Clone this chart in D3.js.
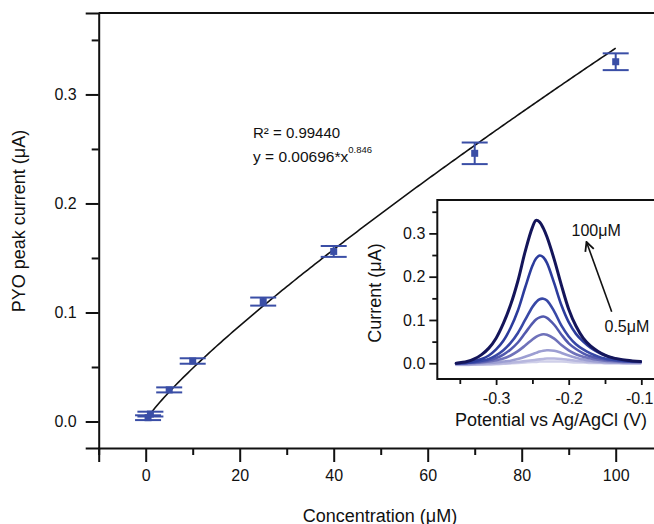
<!DOCTYPE html>
<html>
<head>
<meta charset="utf-8">
<script src="https://cdn.jsdelivr.net/npm/d3@7"></script>
<style>
  html, body { margin: 0; padding: 0; background: #fff; overflow: hidden; }
  svg { display: block; font-family: "Liberation Sans", Arial, sans-serif; }
</style>
</head>
<body>
<svg id="chart" width="654" height="524"></svg>
<script>
// ---------- Main chart data ----------
const concentrations = [0.5, 1, 5, 10, 25, 40, 70, 100];          // µM
const peakCurrents   = [0.0035, 0.0068, 0.029, 0.0555, 0.110, 0.156, 0.246, 0.330]; // µA
const peakErrors     = [0.0022, 0.0022, 0.0023, 0.0025, 0.0037, 0.005, 0.0099, 0.0077];
const xTickValues    = [0, 20, 40, 60, 80, 100];
const yTickValues    = [0.0, 0.1, 0.2, 0.3];
// Fit shown on the chart: y = a * x^b
const fitA = 0.00696, fitB = 0.846;
const fitRange = [0.5, 100];
const fitLabelR2 = "R² = 0.99440";

// ---------- Inset data (DPV curves) ----------
const potentials = [-0.355, -0.34, -0.33, -0.32, -0.31, -0.30, -0.29, -0.28, -0.27, -0.26, -0.25, -0.245,
  -0.24, -0.235, -0.23, -0.22, -0.21, -0.20, -0.19, -0.18, -0.17, -0.16, -0.15, -0.14, -0.12, -0.101];
const curveLabels = ["0.5µM", "1µM", "5µM", "10µM", "25µM", "40µM", "70µM", "100µM"];
const curve05  = [-0.004,-0.004,-0.003,-0.003,-0.002,-0.002,-0.001,0.000,0.001,0.002,0.003,0.003,0.004,0.004,0.004,0.004,0.004,0.003,0.002,0.002,0.001,0.001,0.000,0.000,0.000,0.000];
const curve1   = [-0.003,-0.003,-0.003,-0.002,-0.002,-0.001,0.000,0.001,0.003,0.005,0.007,0.008,0.009,0.010,0.011,0.011,0.010,0.008,0.006,0.004,0.003,0.002,0.001,0.001,0.000,0.000];
const curve5   = [-0.002,-0.002,-0.001,0.000,0.001,0.002,0.004,0.006,0.010,0.015,0.021,0.024,0.027,0.029,0.030,0.029,0.024,0.018,0.013,0.009,0.006,0.004,0.003,0.002,0.001,0.001];
const curve10  = [0.000,0.000,0.001,0.002,0.004,0.007,0.011,0.018,0.028,0.041,0.055,0.061,0.065,0.067,0.066,0.057,0.042,0.030,0.021,0.015,0.011,0.008,0.006,0.005,0.003,0.003];
const curve25  = [0.000,0.001,0.002,0.004,0.007,0.012,0.020,0.032,0.048,0.070,0.092,0.101,0.106,0.108,0.105,0.089,0.066,0.046,0.033,0.023,0.016,0.012,0.009,0.007,0.004,0.003];
const curve40  = [0.000,0.001,0.003,0.006,0.010,0.018,0.030,0.047,0.070,0.100,0.130,0.141,0.148,0.149,0.145,0.120,0.087,0.062,0.044,0.032,0.023,0.016,0.011,0.008,0.005,0.004];
const curve70  = [0.000,0.002,0.005,0.010,0.018,0.032,0.052,0.082,0.122,0.175,0.225,0.242,0.249,0.245,0.232,0.185,0.134,0.095,0.068,0.050,0.036,0.026,0.018,0.012,0.006,0.004];
const curve100 = [0.000,0.004,0.010,0.020,0.035,0.058,0.092,0.135,0.190,0.258,0.314,0.330,0.326,0.312,0.292,0.240,0.180,0.125,0.086,0.058,0.040,0.028,0.019,0.013,0.007,0.004];
const curveColors = ["#cfcfe9", "#b7b7de", "#9c9ed2", "#6f72ba", "#5259ae", "#3848a6", "#2c3c9c", "#14155a"];
const insetXTicks = [-0.3, -0.2, -0.1];
const insetYTicks = [0.0, 0.1, 0.2, 0.3];

// ---------- Setup ----------
const svg = d3.select("#chart");
const font = "'Liberation Sans', Arial, sans-serif";
const markColor = "#3a4ea6";
const fmt1 = d => d3.format(".1f")(d).replace("\u2212", "-");

// Main scales
const x = d3.scaleLinear().domain([-10, 110]).range([98.7, 662.7]);
const y = d3.scaleLinear().domain([-0.0243, 0.3747]).range([448, 13]);

// Frame: top border line
svg.append("line").attr("x1", x(-10)).attr("x2", 660).attr("y1", y(0.3747)).attr("y2", y(0.3747))
  .attr("stroke", "#111").attr("stroke-width", 2);

// Left axis
const yAxis = d3.axisLeft(y).tickValues(yTickValues).tickFormat(fmt1).tickSize(13).tickPadding(9);
const gy = svg.append("g").attr("transform", `translate(${x(-10)},0)`).call(yAxis);
gy.select(".domain").attr("stroke", "#111").attr("stroke-width", 2);
gy.selectAll(".tick line").attr("stroke", "#111").attr("stroke-width", 2);
gy.selectAll(".tick text").attr("font-size", 16).attr("font-family", font).attr("fill", "#111");
const yMinor = d3.axisLeft(y).tickValues([0.05, 0.15, 0.25, 0.35]).tickSize(7).tickFormat("");
const gym = svg.append("g").attr("transform", `translate(${x(-10)},0)`).call(yMinor);
gym.select(".domain").remove();
gym.selectAll(".tick line").attr("stroke", "#111").attr("stroke-width", 2);

// Bottom axis
const xAxis = d3.axisBottom(x).tickValues(xTickValues).tickSize(14).tickPadding(8);
const gx = svg.append("g").attr("transform", `translate(0,${y(-0.0243)})`).call(xAxis);
gx.select(".domain").attr("stroke", "#111").attr("stroke-width", 2);
gx.selectAll(".tick line").attr("stroke", "#111").attr("stroke-width", 2);
gx.selectAll(".tick text").attr("font-size", 16).attr("font-family", font).attr("fill", "#111");
const xMinor = d3.axisBottom(x).tickValues([-10, 10, 30, 50, 70, 90]).tickSize(7).tickFormat("");
const gxm = svg.append("g").attr("transform", `translate(0,${y(-0.0243)})`).call(xMinor);
gxm.select(".domain").remove();
gxm.selectAll(".tick line").attr("stroke", "#111").attr("stroke-width", 2);

// Axis titles
svg.append("text").attr("x", 380).attr("y", 521.5).attr("text-anchor", "middle")
  .attr("font-size", 18).attr("font-family", font).attr("fill", "#111").text("Concentration (μM)");
svg.append("text").attr("transform", "translate(25,221) rotate(-90)").attr("text-anchor", "middle")
  .attr("font-size", 18).attr("font-family", font).attr("fill", "#111").text("PYO peak current (μA)");

// Fit curve
const fitXs = d3.range(fitRange[0], fitRange[1] + 0.001, 0.5);
const fitLine = d3.line().x(d => x(d)).y(d => y(fitA * Math.pow(d, fitB)));
svg.append("path").datum(fitXs).attr("d", fitLine).attr("fill", "none")
  .attr("stroke", "#111").attr("stroke-width", 1.6);

// Error bars + markers
const pts = concentrations.map((c, i) => ({ c, v: peakCurrents[i], e: peakErrors[i] }));
const eg = svg.append("g");
pts.forEach(p => {
  eg.append("line").attr("x1", x(p.c)).attr("x2", x(p.c)).attr("y1", y(p.v - p.e)).attr("y2", y(p.v + p.e))
    .attr("stroke", markColor).attr("stroke-width", 2);
  [p.v - p.e, p.v + p.e].forEach(vv => {
    eg.append("line").attr("x1", x(p.c) - 13).attr("x2", x(p.c) + 13).attr("y1", y(vv)).attr("y2", y(vv))
      .attr("stroke", markColor).attr("stroke-width", 2);
  });
  eg.append("rect").attr("x", x(p.c) - 3.5).attr("y", y(p.v) - 3.5).attr("width", 7).attr("height", 7)
    .attr("fill", markColor);
});

// Fit annotation
svg.append("text").attr("x", 253).attr("y", 138).attr("font-size", 15).attr("font-family", font)
  .attr("fill", "#111").text(fitLabelR2);
const eq = svg.append("text").attr("x", 253).attr("y", 161.5).attr("font-size", 15.5).attr("font-family", font).attr("fill", "#111");
eq.append("tspan").text("y = " + fitA + "*x");
eq.append("tspan").attr("dy", -9).attr("font-size", 9.5).text(fitB.toString());

// ---------- Inset ----------
const ix = d3.scaleLinear().domain([-0.381, -0.05]).range([437.3, 437.3 + 0.331 * 726]);
const iy = d3.scaleLinear().domain([-0.0363, 0.3771]).range([379, 200]);

svg.append("rect").attr("x", ix(-0.381)).attr("y", iy(0.3771)).attr("width", 260).attr("height", iy(-0.0363) - iy(0.3771))
  .attr("fill", "#fff").attr("stroke", "#111").attr("stroke-width", 2);

const iyAxis = d3.axisLeft(iy).tickValues(insetYTicks).tickFormat(fmt1).tickSize(8).tickPadding(4);
const giy = svg.append("g").attr("transform", `translate(${ix(-0.381)},0)`).call(iyAxis);
giy.select(".domain").remove();
giy.selectAll(".tick line").attr("stroke", "#111").attr("stroke-width", 1.8);
giy.selectAll(".tick text").attr("font-size", 16).attr("font-family", font).attr("fill", "#111");
const iyMinor = d3.axisLeft(iy).tickValues([0.05, 0.15, 0.25, 0.35]).tickSize(5).tickFormat("");
const giym = svg.append("g").attr("transform", `translate(${ix(-0.381)},0)`).call(iyMinor);
giym.select(".domain").remove();
giym.selectAll(".tick line").attr("stroke", "#111").attr("stroke-width", 1.8);

const ixAxis = d3.axisBottom(ix).tickValues(insetXTicks).tickFormat(fmt1).tickSize(6).tickPadding(8);
const gix = svg.append("g").attr("transform", `translate(0,${iy(-0.0363)})`).call(ixAxis);
gix.select(".domain").remove();
gix.selectAll(".tick line").attr("stroke", "#111").attr("stroke-width", 1.8);
gix.selectAll(".tick text").attr("font-size", 16).attr("font-family", font).attr("fill", "#111");
// keep the last inset label inside the picture edge
gix.selectAll(".tick text").filter(d => d === insetXTicks[insetXTicks.length - 1])
  .attr("text-anchor", "end").attr("x", 653 - ix(insetXTicks[insetXTicks.length - 1]));
const ixMinor = d3.axisBottom(ix).tickValues([-0.35, -0.25, -0.15]).tickSize(5).tickFormat("");
const gixm = svg.append("g").attr("transform", `translate(0,${iy(-0.0363)})`).call(ixMinor);
gixm.select(".domain").remove();
gixm.selectAll(".tick line").attr("stroke", "#111").attr("stroke-width", 1.8);

svg.append("text").attr("x", 551).attr("y", 426).attr("text-anchor", "middle")
  .attr("font-size", 18).attr("font-family", font).attr("fill", "#111").text("Potential vs Ag/AgCl (V)");
svg.append("text").attr("transform", "translate(381,293) rotate(-90)").attr("text-anchor", "middle")
  .attr("font-size", 18).attr("font-family", font).attr("fill", "#111").text("Current (μA)");

// Curves (lightest first)
const curves = [curve05, curve1, curve5, curve10, curve25, curve40, curve70, curve100];
const curveLine = d3.line().x((d, i) => ix(potentials[i])).y(d => iy(d)).curve(d3.curveCatmullRom.alpha(0.5));
curves.forEach((c, k) => {
  svg.append("path").datum(c).attr("d", curveLine).attr("fill", "none")
    .attr("stroke", curveColors[k]).attr("stroke-width", k === curves.length - 1 ? 3 : 2.6)
    .attr("stroke-linejoin", "round").attr("stroke-linecap", "round");
});

// Labels + arrow
svg.append("text").attr("x", 571.5).attr("y", 236).attr("font-size", 16).attr("font-family", font).attr("fill", "#111").text("100μM");
svg.append("text").attr("x", 604.5).attr("y", 332).attr("font-size", 16).attr("font-family", font).attr("fill", "#111").text("0.5μM");
const defs = svg.append("defs");
defs.append("marker").attr("id", "arr").attr("viewBox", "0 0 10 10").attr("refX", 9).attr("refY", 5)
  .attr("markerWidth", 7).attr("markerHeight", 7).attr("orient", "auto")
  .append("path").attr("d", "M1,1 L9,5 L1,9").attr("fill", "none").attr("stroke", "#111").attr("stroke-width", 1.6);
svg.append("line").attr("x1", 611.7).attr("y1", 311.7).attr("x2", 586.5).attr("y2", 242)
  .attr("stroke", "#111").attr("stroke-width", 1.6).attr("marker-end", "url(#arr)");
</script>
</body>
</html>
